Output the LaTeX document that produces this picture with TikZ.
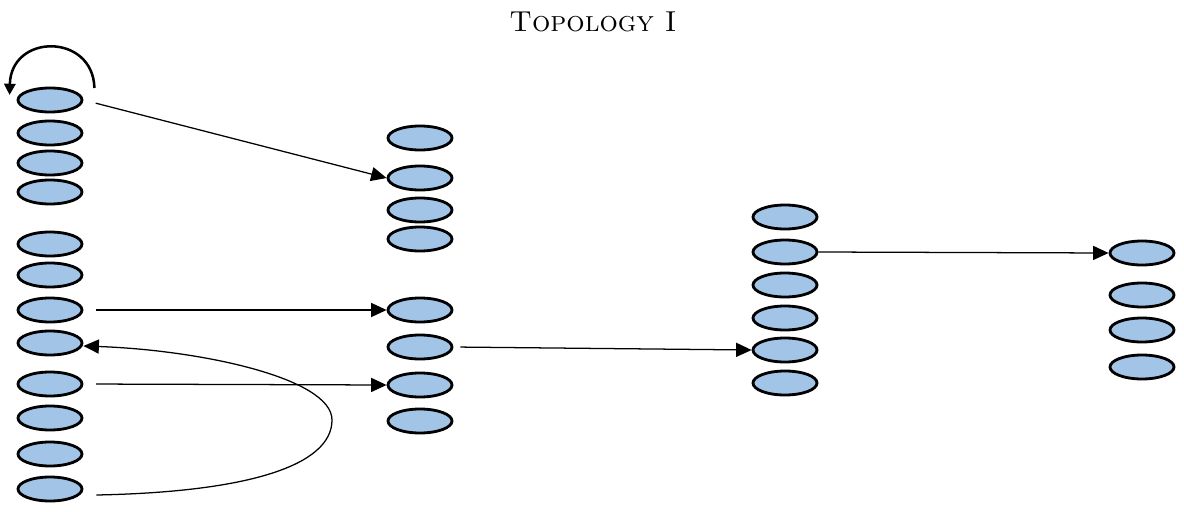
\documentclass[tikz,border=0pt]{standalone}
\usetikzlibrary{arrows.meta,calc,shapes.geometric}
\definecolor{ellfill}{HTML}{A2C4E6}
\begin{document}
\begin{tikzpicture}[x=0.025cm,y=-0.025cm,
  cell/.style={draw=black,line width=2pt,fill=ellfill,ellipse,minimum width=1.6cm,minimum height=0.6cm,inner sep=0pt},
  conn/.style={line width=0.9pt,-{Triangle[length=11pt,width=10pt]}},
  loopconn/.style={line width=1.8pt,-{Triangle[length=8pt,width=8pt]}},
  title/.style={font=\fontsize{20.5}{25}\selectfont}]
\useasboundingbox (0,0) rectangle (1184,512);
\node[title] (t) at (593,22) {\textsc{Topology I}};
% column 1
\foreach \i/\y in {1/100,2/133,3/163,4/192,5/244,6/275,7/310,8/343,9/384,10/418,11/454,12/489}
  \node[cell] (a\i) at (50,\y) {};
% column 2
\foreach \i/\y in {1/138,2/178,3/210,4/239,5/310,6/347,7/385,8/421}
  \node[cell] (b\i) at (420,\y) {};
% column 3
\foreach \i/\y in {1/217,2/252,3/285,4/318,5/350,6/383}
  \node[cell] (c\i) at (785,\y) {};
% column 4
\foreach \i/\y in {1/253,2/295,3/330,4/367}
  \node[cell] (d\i) at (1142,\y) {};
% connectors
\draw[conn,shorten <=9pt] (a1.east) -- (b2.west);
\draw[conn,shorten <=9pt] (a7.east) -- (b5.west);
\draw[conn,shorten <=9pt] (a9.east) -- (b7.west);
\draw[conn,shorten <=5pt] (b6.east) -- (c5.west);
\draw[conn] (c2.east) -- (d1.west);
\draw[conn]
  ($(a12.east)+(13,6)$) .. controls (250,492) and (332,465) .. (332,420)
  .. controls (332,378) and (200,350) .. ($(a8.east)+(0,3)$);
\draw[loopconn] ($(a1.east)+(11,-12)$) .. controls (93,33) and (11,33) .. ($(a1.west)+(-7,-5)$);
\end{tikzpicture}
\end{document}
